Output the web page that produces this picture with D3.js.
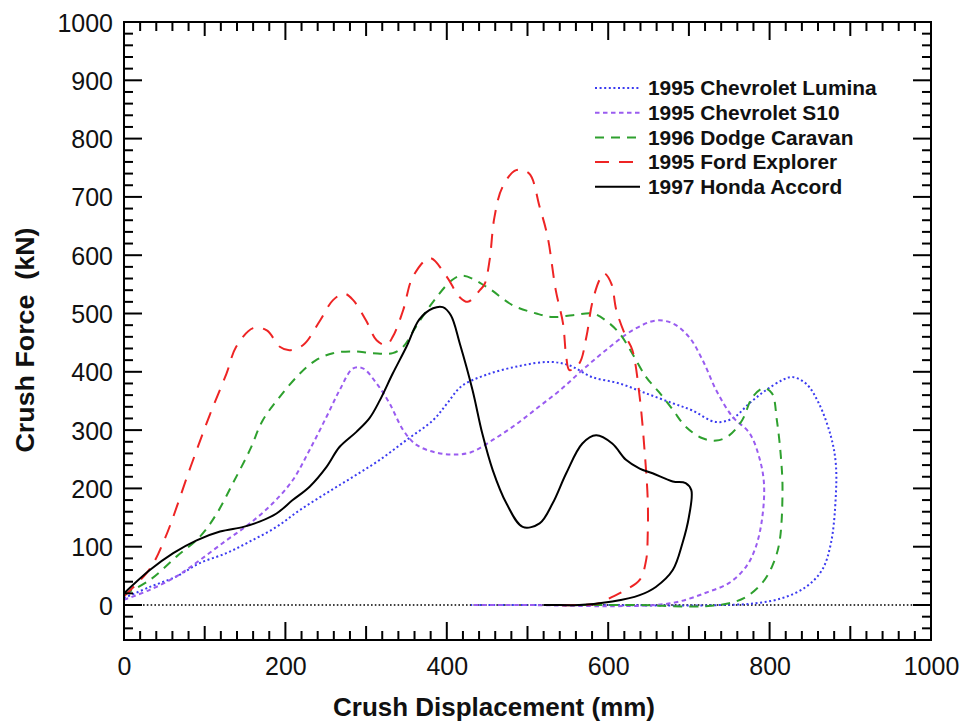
<!DOCTYPE html>
<html><head><meta charset="utf-8">
<script src="https://cdn.jsdelivr.net/npm/d3@7"></script>
<style>body{margin:0;background:#fff}svg{display:block}text{font-family:Arial,"Liberation Sans",sans-serif}</style>
</head><body>
<script>
const seriesNames = ["1995 Chevrolet Lumina","1995 Chevrolet S10","1996 Dodge Caravan","1995 Ford Explorer","1997 Honda Accord"];
const xTickLabels = [0,200,400,600,800,1000];
const yTickLabels = [0,100,200,300,400,500,600,700,800,900,1000];

const lumina = [[0,12],[32,31],[65,49],[94,72],[127,89],[156,109],[189,134],[218,163],[251,192],[284,220],[317,249],[350,283],[383,317],[400,345],[418,375],[449,395],[490,410],[527,417],[552,411],[580,391],[614,380],[647,363],[680,346],[704,334],[733,314],[754,320],[775,346],[795,368],[816,386],[828,391],[845,380],[861,346],[876,289],[882,243],[882,186],[876,106],[865,60],[845,31],[816,12],[783,3],[741,0],[680,-1],[600,0],[500,0],[430,0]];
const s10 = [[0,9],[32,26],[65,49],[94,77],[127,111],[156,140],[184,174],[209,214],[230,266],[251,323],[267,368],[284,406],[296,406],[313,380],[329,346],[346,300],[362,275],[385,262],[407,258],[430,262],[458,284],[486,310],[514,340],[540,368],[568,403],[597,437],[630,471],[659,488],[680,483],[700,460],[717,420],[734,368],[754,323],[775,295],[787,254],[793,209],[791,151],[783,100],[771,66],[750,38],[721,21],[688,6],[659,0],[600,-2],[500,0],[430,0]];
const caravan = [[0,18],[32,43],[65,83],[94,117],[115,157],[135,209],[156,266],[172,317],[193,357],[218,397],[238,420],[259,432],[284,435],[308,432],[333,432],[346,443],[362,478],[383,520],[407,558],[420,565],[449,546],[482,514],[511,500],[531,494],[556,497],[581,500],[597,488],[614,466],[630,431],[647,391],[663,365],[680,335],[696,306],[717,286],[734,282],[750,291],[766,317],[779,357],[793,372],[803,363],[809,317],[814,254],[816,197],[812,106],[803,66],[791,38],[771,14],[750,3],[721,-2],[680,-2],[639,0],[560,0]];
const explorer = [[0,15],[32,62],[51,115],[82,235],[106,325],[127,397],[139,443],[160,475],[177,471],[193,443],[205,437],[222,446],[243,488],[259,523],[273,534],[284,523],[300,488],[313,454],[325,446],[333,460],[346,506],[358,563],[379,595],[399,565],[416,528],[426,520],[441,540],[447,551],[453,591],[459,665],[469,717],[486,746],[502,740],[515,683],[525,631],[535,540],[544,483],[548,426],[552,403],[564,414],[573,460],[580,517],[589,557],[595,569],[604,551],[610,506],[622,460],[630,437],[639,357],[645,266],[649,180],[649,123],[647,77],[639,43],[622,26],[605,14],[589,3],[560,0],[530,0]];
const accord = [[0,20],[32,60],[61,89],[90,111],[119,126],[148,134],[168,143],[189,157],[209,180],[230,203],[251,237],[267,271],[288,297],[304,320],[317,351],[333,397],[350,443],[366,490],[383,509],[395,511],[405,497],[416,449],[432,368],[444,294],[457,231],[474,174],[494,134],[515,140],[531,174],[548,226],[568,277],[585,291],[605,277],[622,249],[639,234],[655,226],[680,212],[696,209],[703,197],[700,151],[692,106],[680,60],[659,31],[639,17],[605,6],[564,0],[531,0],[520,0]];

const seriesData = [lumina, s10, caravan, explorer, accord];
const colors = ["#3b3bf0","#9a5cf0","#2ea02e","#ee2424","#000000"];
const dashes = ["2,2.6","4.5,3.5","9,7","14,10",null];
const widths = [2,2,2,2,2];

const W=963,H=726;
const m={l:124,r:931,t:22,b:640};
const x=d3.scaleLinear().domain([0,1000]).range([m.l,m.r]);
const y=d3.scaleLinear().domain([-60,1000]).range([m.b,m.t]);

const svg=d3.select("body").append("svg").attr("width",W).attr("height",H);

svg.append("defs").append("clipPath").attr("id","clip")
  .append("rect").attr("x",m.l).attr("y",m.t).attr("width",m.r-m.l).attr("height",m.b-m.t);

// zero line
svg.append("line").attr("x1",x(0)).attr("x2",x(1000)).attr("y1",y(0)).attr("y2",y(0))
  .attr("stroke","#000").attr("stroke-width",1.6).attr("stroke-dasharray","1.6,2.2");

const line=d3.line().x(d=>x(d[0])).y(d=>y(d[1])).curve(d3.curveCatmullRom.alpha(0.5));
const g=svg.append("g").attr("clip-path","url(#clip)");
seriesData.forEach((s,i)=>{
  g.append("path").datum(s).attr("d",line).attr("fill","none")
   .attr("stroke",colors[i]).attr("stroke-width",widths[i])
   .attr("stroke-dasharray",dashes[i]);
});

// axes
const xMinor=d3.range(0,1001,20);
const yMinor=d3.range(-60,1001,20);
function xLen(v){return v%200===0?18:(v%100===0?14:9);}
function yLen(v){return v%100===0?18:9;}
const axG=svg.append("g").attr("stroke","#000").attr("stroke-width",2);
xMinor.forEach(v=>{
  axG.append("line").attr("x1",x(v)).attr("x2",x(v)).attr("y1",m.b).attr("y2",m.b-xLen(v));
  axG.append("line").attr("x1",x(v)).attr("x2",x(v)).attr("y1",m.t).attr("y2",m.t+xLen(v));
});
yMinor.forEach(v=>{
  axG.append("line").attr("y1",y(v)).attr("y2",y(v)).attr("x1",m.l).attr("x2",m.l+yLen(v));
  axG.append("line").attr("y1",y(v)).attr("y2",y(v)).attr("x1",m.r).attr("x2",m.r-yLen(v));
});
svg.append("rect").attr("x",m.l).attr("y",m.t).attr("width",m.r-m.l).attr("height",m.b-m.t)
  .attr("fill","none").attr("stroke","#000").attr("stroke-width",2);

// tick labels via d3 axes (labels only)
const xAxis=d3.axisBottom(x).tickValues(xTickLabels).tickSize(0).tickPadding(0).tickFormat(d3.format("d"));
const xa=svg.append("g").attr("transform",`translate(0,${m.b})`).call(xAxis);
xa.select(".domain").remove();
xa.selectAll("text").attr("font-size",25).attr("fill","#111").attr("y",35).attr("dy",0).style("font-family","Arial, 'Liberation Sans', sans-serif");
const yAxis=d3.axisLeft(y).tickValues(yTickLabels).tickSize(0).tickPadding(11).tickFormat(d3.format("d"));
const ya=svg.append("g").attr("transform",`translate(${m.l},0)`).call(yAxis);
ya.select(".domain").remove();
ya.selectAll("text").attr("font-size",25).attr("fill","#111").attr("dy","0.36em").style("font-family","Arial, 'Liberation Sans', sans-serif");

// titles
svg.append("text").attr("x",494).attr("y",716).attr("text-anchor","middle")
  .attr("font-size",25).attr("font-weight","bold").attr("fill","#111")
  .attr("textLength",322).attr("lengthAdjust","spacingAndGlyphs").text("Crush Displacement (mm)");
svg.append("text").attr("transform","translate(34,340) rotate(-90)").attr("text-anchor","middle")
  .attr("font-size",25).attr("font-weight","bold").attr("fill","#111").attr("xml:space","preserve").style("white-space","pre")
  .attr("textLength",225).attr("lengthAdjust","spacingAndGlyphs").text("Crush Force  (kN)");

// legend
const lg=svg.append("g");
seriesNames.forEach((n,i)=>{
  const yy=88+i*24.7;
  lg.append("line").attr("x1",595).attr("x2",640).attr("y1",yy).attr("y2",yy)
    .attr("stroke",colors[i]).attr("stroke-width",2).attr("stroke-dasharray",dashes[i]);
  lg.append("text").attr("x",648).attr("y",yy).attr("dy","0.36em").attr("font-size",20)
    .attr("font-weight","bold").attr("fill","#111").attr("transform",`translate(648,0) scale(1.045,1) translate(-648,0)`).text(n);
});
</script>
</body></html>
